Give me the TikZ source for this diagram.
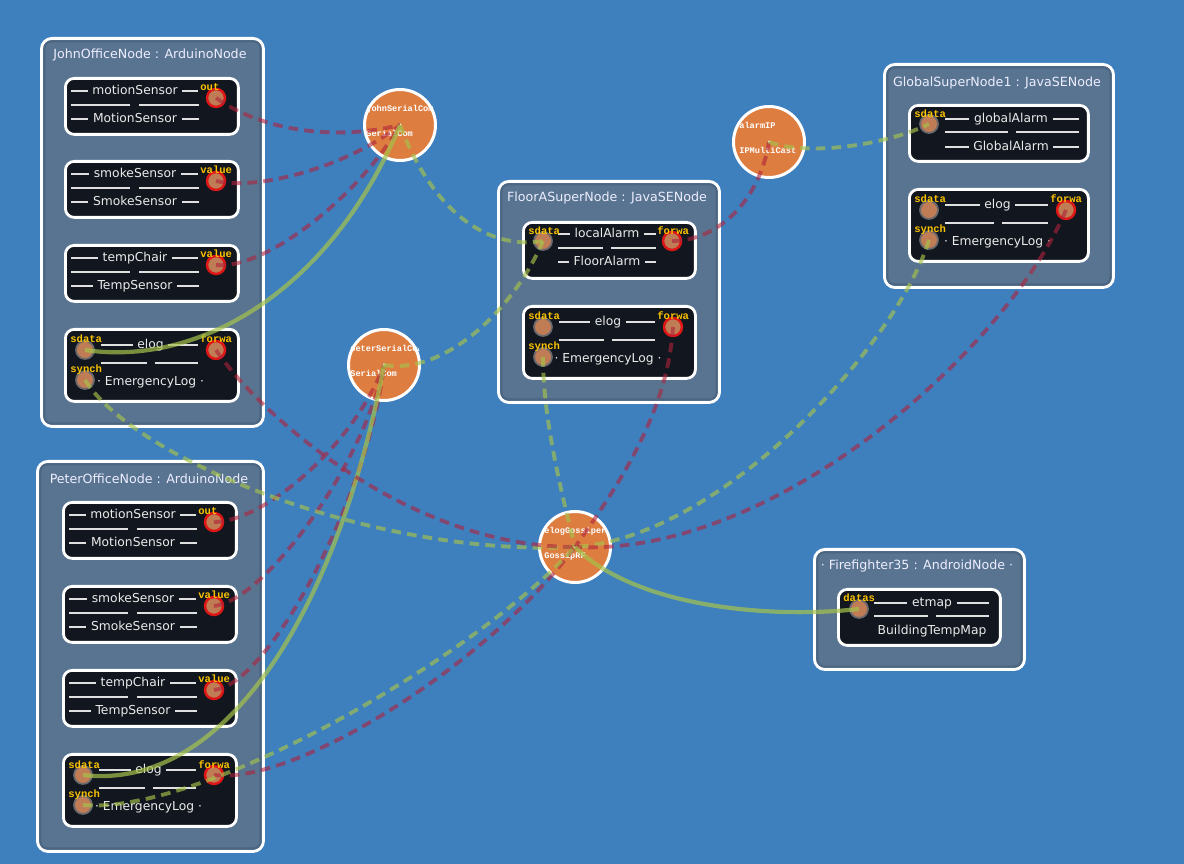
\documentclass[tikz,border=0pt]{standalone}
\usepackage{fontspec}
\setmainfont{DejaVu Sans}
\newfontfamily\monofont{Liberation Mono}

\definecolor{bgblue}{RGB}{62,127,190}
\definecolor{groupfill}{RGB}{88,116,145}
\definecolor{grouprim}{RGB}{76,101,128}
\definecolor{compfill}{RGB}{18,22,30}
\definecolor{chanfill}{RGB}{222,125,64}
\definecolor{portfill}{RGB}{192,124,84}
\definecolor{portring}{RGB}{105,105,110}
\definecolor{outring}{RGB}{222,22,22}
\definecolor{lblyellow}{RGB}{250,195,0}
\definecolor{wirered}{RGB}{175,35,60}
\definecolor{wiregreen}{RGB}{165,195,75}

% sensor component: id, x, y, instance, type, port label
\newcommand\sensorcomp[6]{%
  \node[comp box, minimum width=3.46cm, minimum height=1.12cm] (#1) at (#2,#3) {};
  \node[comp text] (#1-inst) at (#2+71,#3+14) {#4};
  \node[comp text] (#1-type) at (#2+71,#3+42) {#5};
  \draw[bar] (#2+7,#3+14) -- (#1-inst.west) (#1-inst.east) -- (#2+134,#3+14);
  \draw[bar] (#2+7,#3+28) -- (#2+66,#3+28) (#2+75,#3+28) -- (#2+135,#3+28);
  \draw[bar] (#2+7,#3+42) -- (#1-type.west) (#1-type.east) -- (#2+135,#3+42);
  \node[out port] (#1-port) at (#2+152,#3+21) {};
  \node[port label] at (#2+136,#3+14) {#6};
}
% elog component: id, x, y, width
\newcommand\elogcomp[4]{%
  \node[comp box, minimum width=#4*0.02cm, minimum height=1.44cm] (#1) at (#2,#3) {};
  \node[comp text] (#1-inst) at (#2+#4/2,#3+17) {elog};
  \node[comp text] (#1-type) at (#2+#4/2,#3+54) {· EmergencyLog ·};
  \draw[bar] (#2+37,#3+17) -- (#1-inst.west) (#1-inst.east) -- (#2+#4-39,#3+17);
  \draw[bar] (#2+37,#3+35) -- (#2+#4/2-4,#3+35) (#2+#4/2+4,#3+35) -- (#2+#4-39,#3+35);
  \node[in port] (#1-sdata) at (#2+21,#3+22) {};
  \node[out port] (#1-forwa) at (#2+#4-21,#3+22) {};
  \node[in port] (#1-synch) at (#2+21,#3+52) {};
  \node[port label] at (#2+6,#3+15) {sdata};
  \node[port label] at (#2+#4-37,#3+15) {forwa};
  \node[port label] at (#2+6,#3+45) {synch};
}
% channel: id, x, y, name, type, label indent
\newcommand\channode[6]{%
  \node[chan node] (#1) at (#2,#3) {};
  \begin{scope}
    \clip (#1.center) circle (0.76cm);
    \node[chan label] (#1-name) at (#2-#6,#3-13) {#4};
    \node[chan label] (#1-type) at (#2-#6,#3+12) {#5};
  \end{scope}
  \fill[white] (#1.center) circle (0.03cm);
}

\begin{document}
\begin{tikzpicture}[x=0.02cm,y=-0.02cm,
    group box/.style={draw=white,line width=1.7pt,rounded corners=6pt,fill=groupfill,
                      anchor=north west,inner sep=0pt},
    group rim/.style={draw=grouprim,line width=1.2pt,rounded corners=4pt},
    node title/.style={text=white!93!blue,font=\fontsize{7.2}{8}\selectfont},
    comp box/.style={draw=white,line width=1.6pt,rounded corners=5pt,fill=compfill,
                     anchor=north west,inner sep=0pt},
    comp text/.style={text=white!92!black,font=\fontsize{7}{8}\selectfont,
                      inner xsep=2.5pt,inner ysep=0pt,text height=5.2pt,text depth=1.5pt},
    bar/.style={draw=white!88!black,line width=0.85pt},
    in port/.style={circle,fill=portfill,draw=portring,line width=1pt,
                    minimum size=0.36cm,inner sep=0pt},
    out port/.style={in port,draw=outring,line width=1.4pt},
    port label/.style={text=lblyellow,font=\monofont\bfseries\fontsize{6}{6}\selectfont,
                       inner sep=0pt,anchor=base west},
    chan node/.style={circle,draw=white,line width=1.7pt,fill=chanfill,
                      minimum size=1.42cm,inner sep=0pt},
    chan label/.style={text=white,font=\monofont\bfseries\fontsize{4.9}{5}\selectfont,
                       inner sep=0pt,anchor=base west},
    red wire/.style={draw=wirered,line width=2.2pt,opacity=0.6,dash pattern=on 5.5pt off 3.5pt},
    green wire/.style={draw=wiregreen,line width=2.2pt,opacity=0.65,dash pattern=on 5.5pt off 3.5pt},
    green solid/.style={draw=wiregreen,line width=2.4pt,opacity=0.7}]

  \fill[bgblue] (0,0) rectangle (1184,864);
  \useasboundingbox (0,0) rectangle (1184,864);

  % nodes
  \node[group box,minimum width=4.44cm,minimum height=7.76cm] (john) at (40,37) {};
  \draw[group rim] ([shift={(2.5pt,-2.5pt)}]john.north west) rectangle ([shift={(-2.5pt,2.5pt)}]john.south east);
  \node[node title] (john-title) at (150,55) {JohnOfficeNode : ArduinoNode};
  \node[group box,minimum width=4.52cm,minimum height=7.80cm] (peter) at (36,460) {};
  \draw[group rim] ([shift={(2.5pt,-2.5pt)}]peter.north west) rectangle ([shift={(-2.5pt,2.5pt)}]peter.south east);
  \node[node title] (peter-title) at (149,479) {PeterOfficeNode : ArduinoNode};
  \node[group box,minimum width=4.42cm,minimum height=4.42cm] (floora) at (497,180) {};
  \draw[group rim] ([shift={(2.5pt,-2.5pt)}]floora.north west) rectangle ([shift={(-2.5pt,2.5pt)}]floora.south east);
  \node[node title] (floora-title) at (607,198) {FloorASuperNode : JavaSENode};
  \node[group box,minimum width=4.58cm,minimum height=4.46cm] (global) at (883,63) {};
  \draw[group rim] ([shift={(2.5pt,-2.5pt)}]global.north west) rectangle ([shift={(-2.5pt,2.5pt)}]global.south east);
  \node[node title] (global-title) at (997,83) {GlobalSuperNode1 : JavaSENode};
  \node[group box,minimum width=4.20cm,minimum height=2.40cm] (fire) at (813,548) {};
  \draw[group rim] ([shift={(2.5pt,-2.5pt)}]fire.north west) rectangle ([shift={(-2.5pt,2.5pt)}]fire.south east);
  \node[node title] (fire-title) at (917,566) {· Firefighter35 : AndroidNode ·};

  % components
  \sensorcomp{jm}{64}{77}{motionSensor}{MotionSensor}{out}
  \sensorcomp{js}{64}{160}{smokeSensor}{SmokeSensor}{value}
  \sensorcomp{jt}{64}{244}{tempChair}{TempSensor}{value}
  \elogcomp{je}{64}{328}{173}

  \sensorcomp{pm}{62}{501}{motionSensor}{MotionSensor}{out}
  \sensorcomp{ps}{62}{585}{smokeSensor}{SmokeSensor}{value}
  \sensorcomp{pt}{62}{669}{tempChair}{TempSensor}{value}
  \elogcomp{pe}{62}{753}{173}

  \node[comp box,minimum width=3.44cm,minimum height=1.12cm] (fl) at (522,221) {};
  \node[comp text] (fl-inst) at (607,234) {localAlarm};
  \node[comp text] (fl-type) at (607,262) {FloorAlarm};
  \draw[bar] (558,234) -- (fl-inst.west) (fl-inst.east) -- (656,234);
  \draw[bar] (558,248) -- (603,248) (611,248) -- (656,248);
  \draw[bar] (558,262) -- (fl-type.west) (fl-type.east) -- (656,262);
  \node[in port] (fl-sdata) at (543,241) {};
  \node[out port] (fl-forwa) at (672,241) {};
  \node[port label] at (528,235) {sdata};
  \node[port label] at (657,235) {forwa};
  \elogcomp{fe}{522}{305}{172}

  \node[comp box,minimum width=3.58cm,minimum height=1.12cm] (ga) at (908,104) {};
  \node[comp text] (ga-inst) at (1011,119) {globalAlarm};
  \node[comp text] (ga-type) at (1011,147) {GlobalAlarm};
  \draw[bar] (945,119) -- (ga-inst.west) (ga-inst.east) -- (1079,119);
  \draw[bar] (945,132) -- (1008,132) (1016,132) -- (1079,132);
  \draw[bar] (945,147) -- (ga-type.west) (ga-type.east) -- (1079,147);
  \node[in port] (ga-sdata) at (929,124) {};
  \node[port label] at (914,118) {sdata};
  \elogcomp{ge}{908}{188}{179}

  \node[comp box,minimum width=3.24cm,minimum height=1.12cm] (ff) at (837,588) {};
  \node[comp text] (ff-inst) at (932,603) {etmap};
  \node[comp text] (ff-type) at (932,631) {BuildingTempMap};
  \draw[bar] (874,603) -- (ff-inst.west) (ff-inst.east) -- (989,603);
  \draw[bar] (874,616) -- (928,616) (936,616) -- (989,616);
  \node[in port] (ff-datas) at (859,609) {};
  \node[port label] at (843,602) {datas};

  % channels
  \channode{jsc}{400}{125}{johnSerialCom}{SerialCom}{34}
  \channode{psc}{384}{365}{peterSerialCom}{SerialCom}{34}
  \channode{aip}{769}{142}{alarmIP}{IPMultiCast}{30}
  \channode{gos}{575}{547}{elogGossiper}{GossipRF}{31}

  % bindings
  \draw[red wire] (jm-port.center) .. controls +(50,35) and +(-60,15) .. (jsc.center);
  \draw[red wire] (js-port.center) .. controls +(45,10) and +(-50,40) .. (jsc.center);
  \draw[red wire] (jt-port.center) .. controls +(50,5) and +(-40,70) .. (jsc.center);
  \draw[green solid] (je-sdata.center) .. controls +(115,17) and +(-69,165) .. (jsc.center);
  \draw[green wire] (jsc.center) .. controls +(30,80) and +(-60,10) .. (fl-sdata.center);

  \draw[red wire] (pm-port.center) .. controls +(50,0) and +(-30,80) .. (psc.center);
  \draw[red wire] (ps-port.center) .. controls +(50,-5) and +(-20,100) .. (psc.center);
  \draw[red wire] (pt-port.center) .. controls +(55,-5) and +(-15,130) .. (psc.center);
  \draw[green solid] (pe-sdata.center) .. controls +(147,17) and +(-44,235) .. (psc.center);
  \draw[green wire] (psc.center) .. controls +(60,10) and +(-30,70) .. (fl-sdata.center);

  \draw[red wire] (fl-forwa.center) .. controls +(45,0) and +(-10,60) .. (aip.center);
  \draw[green wire] (aip.center) .. controls +(40,15) and +(-40,20) .. (ga-sdata.center);

  \draw[green wire] (je-synch.center) .. controls +(50,80) and +(-200,10) .. (gos.center);
  \draw[red wire] (je-forwa.center) .. controls +(40,60) and +(-170,0) .. (gos.center);
  \draw[red wire] (pe-forwa.center) .. controls +(80,10) and +(-90,120) .. (gos.center);
  \draw[green wire] (pe-synch.center) .. controls +(120,10) and +(-100,110) .. (gos.center);
  \draw[green wire] (fe-synch.center) .. controls +(0,60) and +(-15,-60) .. (gos.center);
  \draw[red wire] (fe-forwa.center) .. controls +(-5,80) and +(50,-70) .. (gos.center);
  \draw[green wire] (ge-synch.center) .. controls +(-30,100) and +(150,-10) .. (gos.center);
  \draw[red wire] (ge-forwa.center) .. controls +(-60,140) and +(200,10) .. (gos.center);
  \draw[green solid] (gos.center) .. controls +(60,60) and +(-90,10) .. (ff-datas.center);
\end{tikzpicture}
\end{document}
